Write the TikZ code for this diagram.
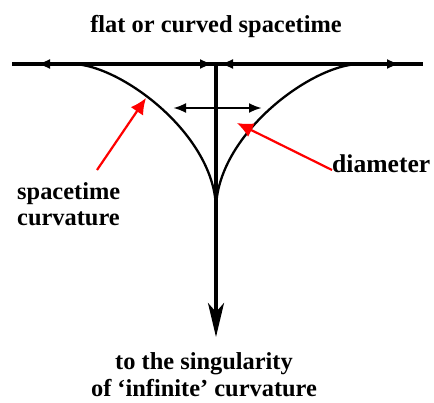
\documentclass[tikz,border=0pt]{standalone}
\usepackage{fontspec}
\setmainfont{Liberation Serif}
\usetikzlibrary{arrows.meta}
\begin{document}
\begin{tikzpicture}[x=1pt,y=-1pt,
  lbl/.style={font=\bfseries\fontsize{24.4}{26}\selectfont, inner sep=0pt},
  mainline/.style={line width=3.2pt},
  curve/.style={line width=2.3pt},
  bothhead/.style={{Latex[length=13pt,width=10pt]}-{Latex[length=13pt,width=10pt]}},
  redarrow/.style={red, line width=2.2pt, -{Latex[length=16pt,width=15pt]}}]
\useasboundingbox (0,0) rectangle (434,402);
% coordinates
\coordinate (L) at (12,64);
\coordinate (R) at (423,64);
\coordinate (C) at (216,62);
\coordinate (cusp) at (216,210);
\coordinate (bottom) at (216,337);
\coordinate (cl) at (72,64);
\coordinate (cr) at (360,64);
% horizontal line with arrowheads
\draw[mainline] (L) -- (R);
\coordinate (a1) at (37,64);
\coordinate (a2) at (213,64);
\coordinate (a3) at (220,64);
\coordinate (a4) at (400,64);
\draw[mainline, bothhead] (a1) -- (a2);
\draw[mainline, bothhead] (a3) -- (a4);
% curves
\draw[curve] (cl) .. controls (120,64) and (216,135) .. (cusp);
\draw[curve] (cr) .. controls (312,64) and (216,135) .. (cusp);
% vertical arrow
\draw[mainline, -{Stealth[length=34pt,width=16pt,inset=9pt]}] (C) -- (bottom);
% diameter arrow
\coordinate (d1) at (173,108);
\coordinate (d2) at (262,108);
\draw[line width=2.8pt, bothhead] (d1) -- (d2);
% labels
\node[lbl, anchor=base] (top) at (216,32) {flat or curved spacetime};
\node[lbl, anchor=base west] (sc1) at (17,199) {spacetime};
\node[lbl, anchor=base west] (sc2) at (17,225) {curvature};
\node[lbl, font=\bfseries\fontsize{25.6}{27}\selectfont, anchor=base west] (diam) at (332,172) {diameter};
\node[lbl, anchor=base] (b1) at (204,369) {to the singularity};
\node[lbl, anchor=base] (b2) at (204,396) {of ‘infinite’ curvature};
% red arrows
\coordinate (t1) at (97,170);
\coordinate (h1) at (146,98);
\coordinate (t2) at (332,170);
\coordinate (h2) at (237,123);
\draw[redarrow] (t1) -- (h1);
\draw[redarrow] (t2) -- (h2);
\end{tikzpicture}
\end{document}
